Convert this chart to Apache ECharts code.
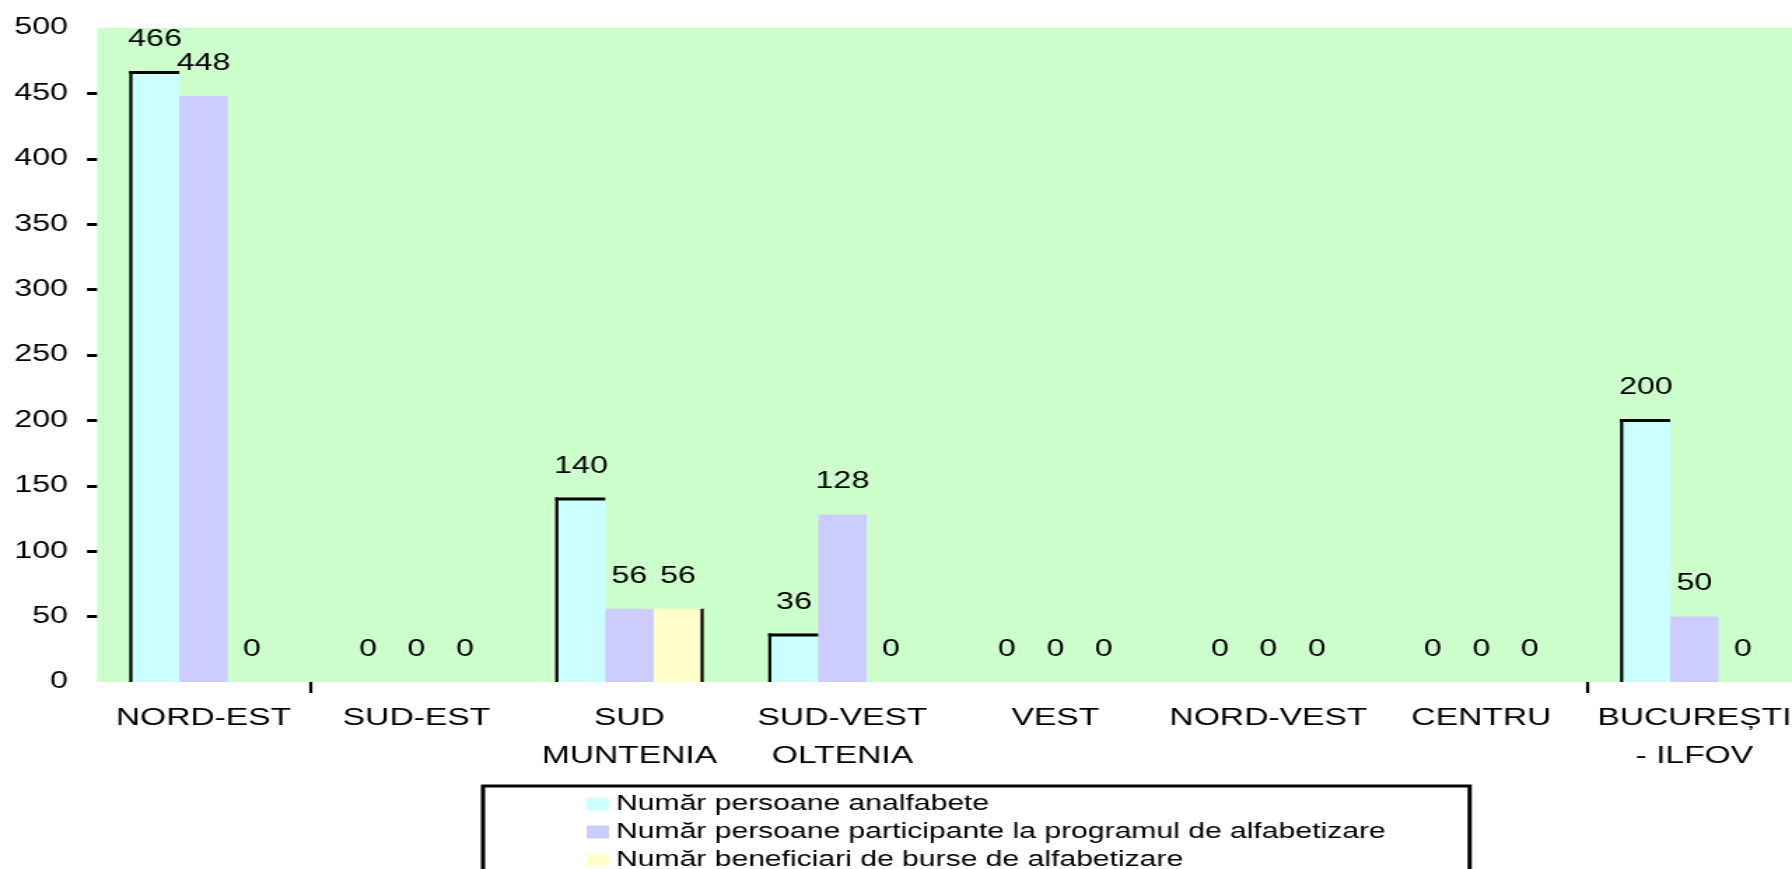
<!DOCTYPE html>
<html>
<head>
<meta charset="utf-8">
<title>Alfabetizare pe regiuni</title>
<script src="https://cdn.jsdelivr.net/npm/echarts@6/dist/echarts.min.js"></script>
<style>
  html, body { margin: 0; padding: 0; background: #ffffff; overflow: hidden; }
  /* the chart is laid out in a narrower box and widened horizontally */
  #chart { width: 1280px; height: 869px; transform: scaleX(1.4); transform-origin: 0 0; }
</style>
</head>
<body>
<div id="chart"></div>
<script>
// Regions
const categories = ['NORD-EST', 'SUD-EST', 'SUD\nMUNTENIA', 'SUD-VEST\nOLTENIA', 'VEST', 'NORD-VEST', 'CENTRU', 'BUCUREȘTI\n- ILFOV'];

// Series names
const seriesNames = [
  'Număr persoane analfabete',
  'Număr persoane participante la programul de alfabetizare',
  'Număr beneficiari de burse de alfabetizare'
];

// Values per region
const analfabete = [466, 0, 140, 36, 0, 0, 0, 200];
const participanti = [448, 0, 56, 128, 0, 0, 0, 50];
const bursieri = [0, 0, 56, 0, 0, 0, 0, 0];

// Value axis range and the ticks that carry a mark
const yMin = 0;
const yMax = 500;
const yStep = 50;
const yTickValues = [50, 100, 150, 200, 250, 300, 350, 400, 450];

const FONT = "'Liberation Sans', Arial, sans-serif";
const BAR_W = 34.6;
const colors = ['#CCFFFF', '#CCCCFF', '#FFFFCC'];

const chart = echarts.init(document.getElementById('chart'), null, { renderer: 'canvas' });

const barLabel = {
  show: true,
  position: 'top',
  distance: 21,
  color: '#000',
  fontFamily: FONT,
  fontSize: 23
};

function barSeries(name, values, color) {
  return {
    name: name,
    type: 'bar',
    data: values,
    barWidth: BAR_W,
    barGap: '0%',
    itemStyle: { color: color, borderWidth: 0 },
    label: barLabel,
    silent: true,
    z: 2
  };
}

// Black edges of the bars (left/top of the first bar, right side of the third)
function renderEdges(params, api) {
  const i = api.value(0);
  const a = api.value(1);
  const c = api.value(2);
  const base = api.coord([i, 0]);
  const children = [];
  if (a > 0) {
    const top = api.coord([i, a]);
    const x0 = base[0] - 1.5 * BAR_W;
    children.push({ type: 'rect', shape: { x: x0 - 1.1, y: top[1] - 1.5, width: 2.2, height: base[1] - top[1] + 1.5 }, style: { fill: '#000' } });
    children.push({ type: 'rect', shape: { x: x0 - 1.1, y: top[1] - 1.5, width: BAR_W + 1.1, height: 3 }, style: { fill: '#000' } });
  }
  if (c > 0) {
    const top = api.coord([i, c]);
    const x1 = base[0] + 1.5 * BAR_W;
    children.push({ type: 'rect', shape: { x: x1 - 1.1, y: top[1], width: 2.2, height: base[1] - top[1] }, style: { fill: '#000' } });
  }
  return { type: 'group', children: children };
}

chart.setOption({
  animation: false,
  backgroundColor: '#ffffff',
  textStyle: { fontFamily: FONT },
  grid: {
    left: 69.3,
    right: -6.3,
    top: 28,
    bottom: 187,
    outerBoundsMode: 'none',
    show: true,
    backgroundColor: '#CCFFCC',
    borderWidth: 0
  },
  legend: {
    data: seriesNames,
    orient: 'vertical',
    left: 345,
    top: 786,
    height: 140,
    icon: 'rect',
    itemWidth: 16,
    itemHeight: 13,
    itemGap: 4,
    padding: [6, 60, 40, 74],
    borderColor: '#000',
    borderWidth: 3,
    selectedMode: false,
    itemStyle: { borderWidth: 0 },
    textStyle: { fontFamily: FONT, fontSize: 21.5, lineHeight: 24, color: '#000' }
  },
  xAxis: {
    type: 'category',
    data: categories,
    boundaryGap: true,
    axisLine: { show: false },
    axisTick: {
      show: true,
      length: 11,
      interval: function (index) { return index === 1 || index === 7; },
      lineStyle: { color: '#000', width: 2.2 }
    },
    axisLabel: {
      interval: 0,
      margin: 17,
      color: '#000',
      fontFamily: FONT,
      fontSize: 24,
      lineHeight: 38,
      align: 'center'
    },
    splitLine: { show: false }
  },
  yAxis: {
    type: 'value',
    min: yMin,
    max: yMax,
    interval: yStep,
    axisLine: { show: false },
    axisTick: { show: true, length: 7.1, customValues: yTickValues, lineStyle: { color: '#000', width: 3 } },
    axisLabel: {
      margin: 20.7,
      color: '#000',
      fontFamily: FONT,
      fontSize: 23,
      padding: [0, 0, 12, 0]
    },
    splitLine: { show: false }
  },
  series: [
    barSeries(seriesNames[0], analfabete, colors[0]),
    barSeries(seriesNames[1], participanti, colors[1]),
    barSeries(seriesNames[2], bursieri, colors[2]),
    {
      name: 'margini',
      type: 'custom',
      renderItem: renderEdges,
      data: categories.map(function (c, i) { return [i, analfabete[i], bursieri[i]]; }),
      encode: { x: 0, y: [1, 2] },
      silent: true,
      z: 3
    }
  ]
});
</script>
</body>
</html>
